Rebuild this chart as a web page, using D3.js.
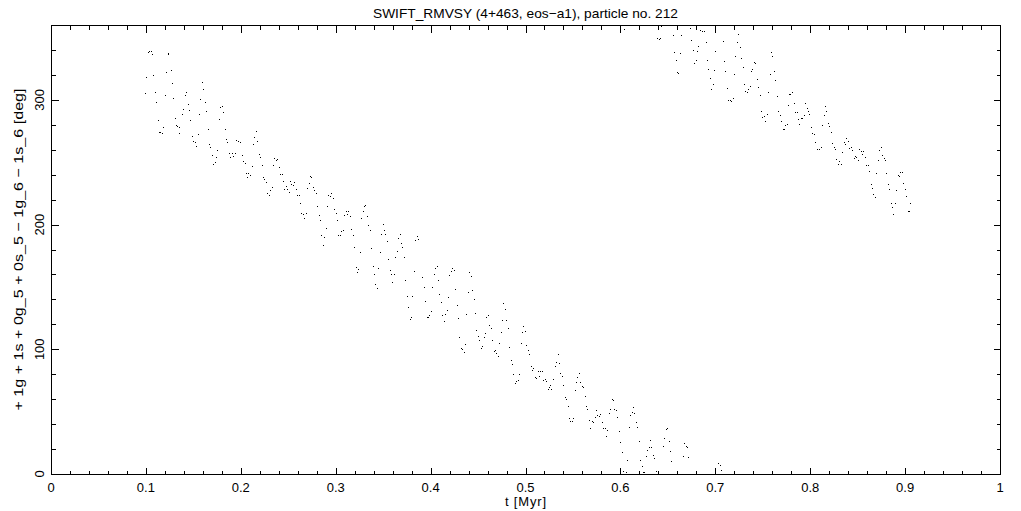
<!DOCTYPE html>
<html>
<head>
<meta charset="utf-8">
<script src="https://cdn.jsdelivr.net/npm/d3@7"></script>
<style>
  html, body { margin: 0; padding: 0; background: #fff; }
  svg { display: block; }
  text { font-family: "Liberation Sans", Arial, sans-serif; fill: #000; }
</style>
</head>
<body>
<svg id="chart" width="1021" height="511"></svg>
<script>
// ---- data ----
const titleText = "SWIFT_RMVSY (4+463, eos\u2212a1), particle no. 212";
const xLabelText = "t [Myr]";
const yLabelText = "+ 1g + 1s + 0g_5 + 0s_5 \u2212 1g_6 \u2212 1s_6 [deg]";
const xTickValues = [0, 0.1, 0.2, 0.3, 0.4, 0.5, 0.6, 0.7, 0.8, 0.9, 1];
const xTickLabels = ["0", "0.1", "0.2", "0.3", "0.4", "0.5", "0.6", "0.7", "0.8", "0.9", "1"];
const yTickValues = [0, 100, 200, 300];
const yTickLabels = ["0", "100", "200", "300"];

const timeMyr = [
0.0994,0.1004,0.1025,0.1036,0.1054,0.1067,0.1078,0.1099,0.1110,0.1131,
0.1141,0.1156,0.1170,0.1183,0.1204,0.1219,0.1236,0.1243,0.1268,0.1278,
0.1289,0.1310,0.1320,0.1338,0.1352,0.1359,0.1384,0.1394,0.1415,0.1426,
0.1447,0.1457,0.1468,0.1489,0.1499,0.1521,0.1531,0.1552,0.1563,0.1573,
0.1594,0.1605,0.1626,0.1636,0.1658,0.1668,0.1679,0.1700,0.1710,0.1731,
0.1742,0.1752,0.1773,0.1784,0.1802,0.1816,0.1837,0.1847,0.1858,0.1879,
0.1889,0.1910,0.1921,0.1942,0.1953,0.1974,0.1992,0.2016,0.2026,0.2047,
0.2058,0.2068,0.2079,0.2100,0.2121,0.2132,0.2142,0.2163,0.2174,0.2195,
0.2205,0.2227,0.2237,0.2248,0.2269,0.2279,0.2300,0.2311,0.2332,0.2342,
0.2353,0.2374,0.2385,0.2406,
0.2416,0.2437,0.2448,0.2458,0.2479,0.2490,0.2511,0.2522,0.2532,0.2553,
0.2564,0.2585,0.2595,0.2616,0.2627,0.2638,0.2659,0.2669,0.2690,0.2701,
0.2722,0.2732,0.2743,0.2764,0.2775,0.2796,0.2806,0.2827,0.2838,0.2848,
0.2869,0.2880,0.2901,0.2912,0.2922,0.2943,0.2954,0.2975,0.2985,0.3006,
0.3017,0.3027,0.3049,0.3059,0.3080,0.3091,0.3112,0.3122,0.3133,0.3154,
0.3164,0.3185,0.3196,0.3217,0.3228,0.3238,0.3259,0.3270,0.3291,0.3301,
0.3312,0.3333,0.3344,0.3365,0.3375,0.3396,0.3407,0.3417,0.3438,0.3449,
0.3470,0.3480,0.3502,0.3512,0.3523,0.3544,0.3554,0.3575,0.3586,0.3596,
0.3618,0.3628,0.3649,0.3660,0.3681,0.3691,0.3702,0.3723,0.3733,0.3754,
0.3765,0.3786,0.3797,0.3807,0.3828,0.3839,0.3860,0.3870,
0.3913,0.3934,0.3944,0.3965,0.3976,0.3986,0.4007,0.4018,0.4039,0.4050,
0.4071,0.4081,0.4092,0.4113,0.4123,0.4144,0.4155,0.4176,0.4187,0.4197,
0.4218,0.4229,0.4250,0.4260,0.4281,0.4292,0.4302,0.4323,0.4334,0.4355,
0.4366,0.4376,0.4397,0.4408,0.4429,0.4439,0.4461,0.4471,0.4482,0.4503,
0.4513,0.4534,0.4545,0.4566,0.4576,0.4587,0.4608,0.4619,0.4640,0.4650,
0.4671,0.4682,0.4692,0.4714,0.4724,0.4745,0.4756,0.4766,0.4787,0.4798,
0.4819,0.4829,0.4850,0.4861,0.4872,0.4893,0.4903,0.4924,0.4935,0.4956,
0.4966,0.4977,0.4998,0.5008,0.5030,0.5040,0.5061,0.5072,0.5082,0.5103,
0.5114,0.5135,0.5146,0.5156,0.5177,0.5188,0.5209,0.5219,0.5240,0.5251,
0.5261,0.5272,0.5293,0.5314,0.5325,0.5346,0.5356,
0.5367,0.5388,0.5398,0.5419,0.5430,0.5451,0.5462,0.5472,0.5493,0.5504,
0.5525,0.5535,0.5546,0.5567,0.5577,0.5599,0.5609,0.5630,0.5641,0.5651,
0.5672,0.5683,0.5704,0.5715,0.5736,0.5746,0.5757,0.5778,0.5788,0.5809,
0.5820,0.5841,0.5852,0.5862,0.5883,0.5894,0.5915,0.5925,0.5936,0.5957,
0.5967,0.5988,0.5999,0.6020,0.6031,0.6062,0.6073,0.6094,0.6104,0.6125,
0.6136,0.6147,0.6168,0.6178,0.6199,0.6210,0.6231,0.6241,0.6252,0.6273,
0.6283,0.6305,0.6315,0.6326,0.6347,0.6357,0.6378,0.6452,0.6463,0.6484,
0.6494,0.6515,0.6526,0.6536,0.6663,0.6673,0.6694,0.6705,0.6716,0.7032,
0.7053,0.7063,
0.6041,0.6389,0.6410,0.6421,0.6431,0.6558,0.6642,0.6568,0.6631,0.6589,
0.6600,0.6610,0.6736,0.6747,0.6768,0.6779,0.6800,0.6810,0.6821,0.6842,
0.6863,0.6884,0.6905,0.6916,0.6926,0.6947,0.6958,0.6979,0.6990,0.7000,
0.7084,0.7095,0.7105,0.7127,0.7137,0.7158,0.7169,0.7190,0.7200,0.7211,
0.7232,0.7243,0.7264,0.7274,0.7295,0.7306,0.7316,0.7337,0.7348,0.7369,
0.7380,0.7390,0.7411,0.7422,0.7443,0.7453,0.7474,0.7485,0.7495,0.7517,
0.7527,0.7548,0.7558,0.7580,0.7590,0.7601,0.7622,0.7632,0.7653,0.7664,
0.7685,0.7696,0.7717,0.7727,0.7738,0.7759,0.7769,0.7780,
0.7790,0.7811,0.7832,0.7843,0.7864,0.7875,0.7885,0.7906,0.7917,0.7938,
0.7948,0.7969,0.7980,0.7991,0.8012,0.8022,0.8043,0.8054,0.8075,0.8096,
0.8117,0.8128,0.8149,0.8159,0.8170,0.8191,0.8201,0.8222,0.8233,0.8254,
0.8265,0.8275,0.8296,0.8307,0.8328,0.8338,0.8359,0.8370,0.8381,0.8402,
0.8412,0.8433,0.8444,0.8465,0.8475,0.8486,0.8507,0.8517,0.8538,0.8549,
0.8560,0.8581,0.8591,0.8612,0.8623,0.8644,0.8654,0.8665,0.8686,0.8697,
0.8718,0.8728,0.8749,0.8760,0.8781,0.8791,0.8802,0.8823,0.8834,0.8855,
0.8865,0.8876,0.8897,0.8907,0.8928,0.8939,0.8949,0.8970,0.8981,0.9002,
0.9012,0.9034,0.9044,0.9055
];

const angleDeg = [
304.7,318.1,337.8,338.9,338.9,336.0,319.7,306.1,298.1,283.7,
274.0,274.0,273.2,278.0,303.7,322.1,336.5,337.0,323.7,313.3,
301.3,285.3,279.7,278.9,273.2,278.0,288.5,292.5,303.7,306.1,
296.5,291.7,283.7,270.8,266.8,266.0,262.8,272.4,288.5,300.5,
314.1,308.5,298.1,290.9,276.4,264.4,262.0,255.6,248.4,250.0,
254.0,259.6,284.5,294.1,294.9,290.1,276.4,268.4,266.0,257.2,
254.0,257.2,254.8,257.2,267.6,266.8,266.0,255.6,250.8,249.2,
241.2,238.0,241.2,239.6,246.8,264.4,270.0,274.8,266.8,256.4,
254.0,247.6,238.0,236.4,234.0,225.2,223.6,227.6,230.0,247.6,
253.2,251.6,252.4,246.0,
240.4,240.4,234.8,228.4,230.8,228.4,226.0,234.8,232.4,231.6,
234.0,228.4,223.6,223.6,217.2,209.1,208.3,205.1,209.1,229.2,
233.2,238.8,238.0,230.0,227.6,225.2,214.7,207.5,203.5,191.5,
183.5,189.9,197.1,214.7,223.6,222.8,225.2,221.2,212.3,209.1,
203.5,191.5,191.5,194.7,195.5,207.5,210.7,208.3,210.7,206.7,
196.3,191.5,181.9,165.9,161.9,164.3,177.9,205.1,210.7,214.7,
215.5,206.7,199.5,195.5,181.1,166.7,160.3,152.2,149.0,165.1,
177.9,192.3,200.3,195.5,192.3,186.7,172.3,163.5,160.3,153.8,
160.3,173.9,178.7,189.1,192.3,185.1,181.9,173.9,155.5,142.6,
133.8,124.2,125.8,142.6,162.7,187.5,190.7,188.3,
157.9,149.8,138.6,125.8,125.8,127.4,130.6,149.8,160.3,165.1,
166.7,155.5,144.2,137.8,127.4,122.6,128.2,131.4,141.8,159.5,
162.7,165.1,163.5,148.2,135.4,125.0,109.8,101.0,100.2,97.8,
104.2,128.2,145.8,161.9,158.7,147.4,140.2,129.0,115.4,110.6,
107.4,101.0,102.6,109.8,113.0,125.8,127.4,119.4,117.0,107.4,
98.6,99.4,97.0,94.6,105.0,113.8,123.4,137.0,132.2,123.4,
117.0,101.8,91.3,88.1,80.1,72.9,74.5,75.3,80.1,105.0,
113.8,118.6,114.6,103.4,99.4,96.2,86.5,83.3,84.9,77.7,
76.9,82.5,78.5,82.5,82.5,75.3,76.1,74.5,68.1,69.7,
71.3,68.1,76.1,86.5,89.7,96.2,88.9,
80.9,78.5,71.3,61.7,60.1,54.5,44.1,41.7,41.7,44.1,
67.3,73.7,77.7,80.9,73.7,70.5,69.7,62.5,54.5,52.1,
42.5,36.1,41.7,40.9,45.7,51.3,47.3,46.5,48.1,40.9,
36.1,36.1,30.4,34.5,48.9,52.1,60.1,59.3,52.1,51.3,
45.7,33.7,25.6,17.6,2.4,1.6,11.2,36.9,47.3,49.7,
53.7,48.9,40.9,36.9,26.4,11.2,6.4,1.6,1.6,14.4,
19.2,21.6,27.2,21.6,15.2,12.8,2.4,22.4,28.8,35.3,
36.1,26.4,18.4,10.4,14.4,24.8,22.4,21.6,13.6,8.8,
7.2,3.2,
356.0,349.4,348.6,349.4,359.0,351.8,351.8,338.1,337.3,331.7,
322.1,321.3,357.4,347.8,339.8,329.3,331.7,338.9,343.0,355.8,
355.0,355.0,346.2,331.7,324.5,317.3,308.5,312.5,323.7,338.9,
347.0,330.9,322.9,309.3,299.7,299.7,298.9,301.3,320.5,334.9,
346.2,352.6,342.2,333.3,326.1,312.5,306.9,306.1,308.5,310.9,
322.9,324.5,330.1,329.3,316.5,310.1,303.7,290.9,286.1,286.9,
282.9,288.5,306.1,320.5,338.1,334.9,322.9,315.7,302.9,290.9,
287.7,282.9,276.4,276.4,279.7,280.5,295.7,304.5,
304.5,306.1,297.3,290.1,290.1,284.5,280.5,285.3,285.3,287.7,
297.3,293.3,290.9,288.5,278.1,273.2,272.4,266.0,260.4,260.4,
262.0,279.7,287.7,294.9,290.9,281.3,278.9,274.0,265.2,262.0,
260.4,252.4,248.4,250.8,248.4,258.0,266.0,264.4,269.2,266.8,
261.2,262.0,259.6,253.2,254.8,254.0,251.6,260.4,258.8,256.4,
258.8,254.0,247.6,247.6,242.8,232.4,229.2,224.4,222.0,241.2,
251.6,259.6,262.0,255.6,253.2,251.6,241.2,232.4,228.4,217.2,
213.9,208.3,217.2,227.6,239.6,238.8,242.0,242.0,233.2,228.4,
222.8,210.7,210.7,217.2
];

// ---- drawing ----
const svg = d3.select("#chart");
const mLeft = 51, mRight = 1000, mTop = 25, mBottom = 474;

const x = d3.scaleLinear().domain([0, 1]).range([mLeft, mRight]);
const y = d3.scaleLinear().domain([0, 360]).range([mBottom, mTop]);

const points = timeMyr.map((t, i) => ({ t: t, v: angleDeg[i] }));

// points (single-pixel dots)
svg.append("g")
  .attr("shape-rendering", "crispEdges")
  .selectAll("rect")
  .data(points)
  .join("rect")
  .attr("x", d => Math.floor(x(d.t)))
  .attr("y", d => Math.floor(y(d.v)))
  .attr("width", 1.2)
  .attr("height", 1.2)
  .attr("fill", "#000");

// frame
const frame = svg.append("g").attr("shape-rendering", "crispEdges");
frame.append("rect")
  .attr("x", mLeft + 0.5).attr("y", mTop + 0.5)
  .attr("width", mRight - mLeft).attr("height", mBottom - mTop)
  .attr("fill", "none").attr("stroke", "#000").attr("stroke-width", 1.3);

// ticks (inward, on all four sides)
const xMinor = d3.range(0, 51).map(i => i / 50);
const yMinor = d3.range(0, 19).map(i => i * 20);
const isMajorX = v => Math.abs(v * 10 - Math.round(v * 10)) < 1e-6;
const isMajorY = v => v % 100 === 0;

const tickG = svg.append("g").attr("stroke", "#000").attr("stroke-width", 1).attr("shape-rendering", "crispEdges");
xMinor.forEach(v => {
  const px = Math.round(x(v)) + 0.5;
  const len = isMajorX(v) ? 7 : 4;
  tickG.append("line").attr("x1", px).attr("x2", px).attr("y1", mBottom + 0.5).attr("y2", mBottom + 0.5 - len);
  tickG.append("line").attr("x1", px).attr("x2", px).attr("y1", mTop + 0.5).attr("y2", mTop + 0.5 + len);
});
yMinor.forEach(v => {
  const py = Math.round(y(v)) + 0.5;
  const len = isMajorY(v) ? 7 : 4;
  tickG.append("line").attr("y1", py).attr("y2", py).attr("x1", mLeft + 0.5).attr("x2", mLeft + 0.5 + len);
  tickG.append("line").attr("y1", py).attr("y2", py).attr("x1", mRight + 0.5).attr("x2", mRight + 0.5 - len);
});

// x tick labels
svg.append("g").selectAll("text")
  .data(xTickValues)
  .join("text")
  .attr("x", d => x(d))
  .attr("y", 492)
  .attr("text-anchor", "middle")
  .attr("font-size", 13)
  .text((d, i) => xTickLabels[i]);

// y tick labels (rotated)
svg.append("g").selectAll("text")
  .data(yTickValues)
  .join("text")
  .attr("transform", d => `translate(44,${y(d)}) rotate(-90)`)
  .attr("text-anchor", "middle")
  .attr("font-size", 13)
  .text((d, i) => yTickLabels[i]);

// title
svg.append("text")
  .attr("x", (mLeft + mRight) / 2)
  .attr("y", 18)
  .attr("text-anchor", "middle")
  .attr("font-size", 13)
  .attr("textLength", 305)
  .attr("lengthAdjust", "spacingAndGlyphs")
  .text(titleText);

// x axis label
svg.append("text")
  .attr("x", (mLeft + mRight) / 2)
  .attr("y", 506)
  .attr("text-anchor", "middle")
  .attr("font-size", 13)
  .attr("textLength", 41)
  .attr("lengthAdjust", "spacing")
  .text(xLabelText);

// y axis label
svg.append("text")
  .attr("transform", `translate(23,${(mTop + mBottom) / 2}) rotate(-90)`)
  .attr("text-anchor", "middle")
  .attr("font-size", 13)
  .attr("textLength", 322)
  .attr("lengthAdjust", "spacingAndGlyphs")
  .text(yLabelText);
</script>
</body>
</html>
